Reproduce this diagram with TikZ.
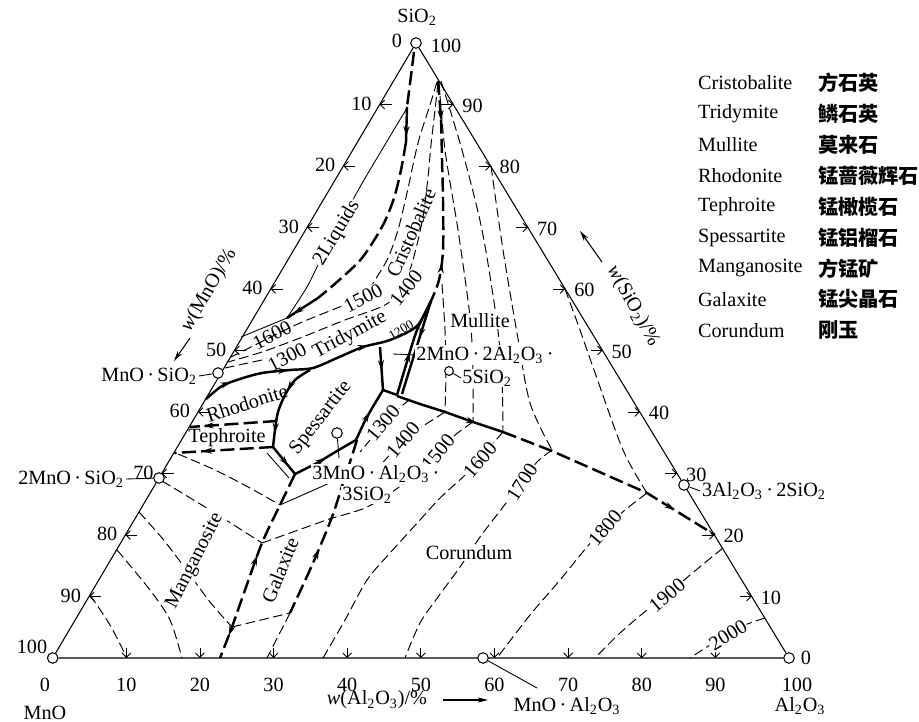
\documentclass[tikz,border=0pt]{standalone}
\usepackage{fontspec}
\setmainfont{Liberation Serif}
\newfontfamily\cjk{Noto Sans CJK SC}
\usetikzlibrary{arrows.meta,decorations.markings,calc}
\newcommand\ssub[1]{\textsubscript{#1}}
\begin{document}
\begin{tikzpicture}[x=0.02cm,y=-0.02cm,
  lab/.style={font=\fontsize{11.5}{13}\selectfont, inner sep=1pt},
  wlab/.style={lab, fill=white, inner sep=0.6pt},
  frameline/.style={line width=0.6pt},
  thinline/.style={line width=0.5pt},
  thindash/.style={line width=0.55pt, dash pattern=on 5.5pt off 2.5pt},
  bolddash/.style={line width=1.4pt, dash pattern=on 8pt off 3pt},
  boldline/.style={line width=1.4pt},
  tickarr/.style={line width=0.5pt, -{Straight Barb[length=2.5pt,width=5pt]}},
  axarr/.style={line width=0.6pt, -{Stealth[length=6pt,width=3pt]}},
  fwd/.style={postaction={solid,decorate,decoration={markings,mark=at position #1 with {\arrow{Stealth[length=6pt,width=3.4pt]}}}}},
  bwd/.style={postaction={solid,decorate,decoration={markings,mark=at position #1 with {\arrowreversed{Stealth[length=6pt,width=3.4pt]}}}}},
  cmp/.style={circle, draw, fill=white, line width=0.6pt, inner sep=0pt, minimum size=6pt},
]
\useasboundingbox (0,0) rectangle (919,722);

% ---------- frame ----------
\node[cmp] (cT) at (416,43) {};
\node[cmp] (cL) at (52.7,658) {};
\node[cmp] (cR) at (789,658) {};
\draw[frameline] (cT) -- (cL) -- (cR) -- (cT);

% ---------- ticks & numbers ----------
\foreach \k in {10,20,...,90}{
  \draw[tickarr] ({416-3.633*\k+12},{43+6.15*\k}) -- ({416-3.633*\k},{43+6.15*\k});
  \node[lab,anchor=east] (lt\k) at ({416-3.633*\k-6},{43+6.15*\k-1}) {\k};
  \draw[tickarr] ({789-3.73*\k-12},{658-6.15*\k}) -- ({789-3.73*\k},{658-6.15*\k});
  \node[lab,anchor=west] (rt\k) at ({789-3.73*\k+7},{658-6.15*\k+1}) {\k};
  \draw[tickarr] ({52.7+7.363*\k},648) -- ({52.7+7.363*\k},658);
  \node[lab] (bt\k) at ({52.7+7.363*\k},685) {\k};
}
\node[lab] (t0) at (397,41) {0};
\node[lab] (t100) at (446,46) {100};
\node[lab] (tS) at (417,17) {SiO\ssub{2}};
\node[lab] (l100) at (32,647) {100};
\node[lab] (b0) at (45,685) {0};
\node[lab] (bMnO) at (45,713) {MnO};
\node[lab] (r0) at (806,658) {0};
\node[lab] (b100) at (797,685) {100};
\node[lab] (bAl) at (800,706) {Al\ssub{2}O\ssub{3}};

% axis titles
\node[lab,rotate=60] (axM) at (209,290) {\textit{w}(MnO)/\%};
\coordinate (aM1) at (190,338); \coordinate (aM2) at (174,361);
\draw[axarr] (aM1) -- (aM2);
\node[lab,rotate=-61] (axS) at (633,306) {\textit{w}(SiO\ssub{2})/\%};
\coordinate (aS1) at (602,262); \coordinate (aS2) at (580,231);
\draw[axarr] (aS1) -- (aS2);
\node[lab] (axA) at (377,700) {\textit{w}(Al\ssub{2}O\ssub{3})/\%};
\coordinate (aA1) at (443,700); \coordinate (aA2) at (488,700);
\draw[axarr] (aA1) -- (aA2);

% ---------- top: two liquids / cristobalite ----------
\draw[bolddash] (414,52) -- (407,107);
\draw[boldline, fwd=0.85] (407,107) -- (406,142);
\draw[bolddash] plot[smooth] coordinates {(406,142) (401,170) (394,198) (383,225) (362,258) (337,282) (318,298)};
\draw[boldline, fwd=0.8] (318,298) -- (287,318);
\draw[thinline] (287,318) -- (241,337);
\draw[thinline] plot[smooth] coordinates {(407,108) (383,148) (360,187) (335,233) (318,265) (307,287) (287,318)};
\node[wlab,rotate=59] (l2L) at (337,233) {2Liquids};
\node[lab,rotate=27] (l1600) at (272,335) {1600};

% 1500 and 1400 isotherms
\draw[thindash] plot[smooth] coordinates {(437,82) (430,105) (418,143) (407,193) (398,230) (388,258) (375,280) (363,297) (337,308) (300,323) (265,340) (231,357)};
\node[wlab,rotate=27] (l1500) at (363,298) {1500};
\draw[thindash] plot[smooth] coordinates {(438,83) (435,110) (431,145) (428,177) (423,217) (413,260) (403,287) (385,305) (345,320) (300,338) (262,352) (228,362)};
\node[wlab,rotate=52] (l1400) at (406,288) {1400};
\node[lab,rotate=66] (lCr) at (411,233) {Cristobalite};
\draw[thindash] (225,368) -- (262,360) -- (300,352);
\node[wlab,rotate=27] (l1300) at (287,357) {1300};
\node[lab,rotate=28] (lTr) at (350,335) {Tridymite};

% tridymite lower boundary
\draw[boldline, fwd=0.12, fwd=0.35, fwd=0.68] plot[smooth] coordinates {(206,399) (222,386) (240,379) (262,373) (290,370) (313,368) (337,358) (363,347) (390,340) (417,326) (431,301)};
\node[lab,rotate=30,font=\fontsize{7.5}{8}\selectfont] (l1200) at (401,330) {1200};

% cristobalite / mullite boundary
\draw[bolddash, fwd=0.18, bwd=0.82] plot[smooth] coordinates {(438,81) (441,120) (442,160) (443,200) (443,250) (439,280) (431,301)};

% mullite isotherms
\draw[thindash] plot[smooth] coordinates {(442,284) (445,330) (446,370) (445,412)};
\draw[thindash] plot[smooth] coordinates {(439,82) (445,150) (458,230) (470,317) (473,370) (473,422)};
\draw[thindash] plot[smooth] coordinates {(441,81) (462,150) (482,230) (497,323) (502,380) (503,432)};
\draw[thindash] plot[smooth] coordinates {(491,166) (503,250) (517,333) (530,403) (552,450)};
\draw[thindash] plot[smooth] coordinates {(565,289) (580,330) (593,367) (623,450) (647,493)};
\node[wlab] (lMu) at (480,321) {Mullite};

% boundaries around spessartite
\draw[boldline, fwd=0.45] plot[smooth] coordinates {(397,395) (406,365) (417,330) (431,301)};
\draw[boldline, bwd=0.6] plot[smooth] coordinates {(402,394) (411,365) (421,333) (431,301)};
\draw[boldline, fwd=0.55] (380,347) -- (383,390);
\draw[boldline] (383,390) -- (397,395);
\draw[boldline, fwd=0.75] plot[smooth] coordinates {(397,396) (420,404) (445,412) (473,422) (503,432)};
\draw[bolddash, fwd=0.8] (503,432) -- (552,451) -- (647,493) -- (715,535);

\draw[boldline, fwd=0.35, fwd=0.85] plot[smooth] coordinates {(310,370) (295,380) (285,395) (278,412) (275,430) (273,447)};
\draw[bolddash, fwd=0.85] (277,421) -- (190,427);
\draw[bolddash, fwd=0.72] (273,447) -- (174,453);
\draw[boldline, fwd=0.7] (273,447) -- (295,474);
\draw[thinline] (267,453) -- (289,478);
\draw[boldline, fwd=0.5] plot[smooth] coordinates {(295,474) (317,463) (337,451) (356,440)};
\draw[boldline, fwd=0.55] plot[smooth] coordinates {(356,440) (367,417) (383,390)};

% galaxite boundaries
\draw[bolddash, bwd=0.45, fwd=0.88] plot[smooth] coordinates {(295,474) (280,505) (262,543) (245,590) (232,627) (220,658)};
\draw[bolddash, bwd=0.62] plot[smooth] coordinates {(357,440) (350,462) (343,483) (332,517) (313,563) (290,613)};
\draw[thindash] (290,613) -- (267,658);

% manganosite isotherms
\draw[thindash] plot[smooth] coordinates {(178,454) (215,470) (250,488) (280,505)};
\draw[thinline] (280,505) -- (341,478);
\draw[thindash] plot[smooth] coordinates {(162,481) (210,510) (262,543)};
\draw[thindash] (262,543) -- (332,518);
\draw[thindash] plot[smooth] coordinates {(139,512) (162,538) (185,568) (210,602) (232,627)};
\draw[thindash] (232,627) -- (290,613);
\draw[thindash] plot[smooth] coordinates {(117,550) (150,590) (170,620) (182,658)};
\draw[thindash] plot[smooth] coordinates {(90,595) (110,625) (127,658)};

% corundum isotherms
\draw[thindash] plot[smooth] coordinates {(410,399) (395,412) (383,423) (370,440) (360,452)};
\node[wlab,rotate=50] (c1300) at (383,423) {1300};
\draw[thindash] plot[smooth] coordinates {(445,412) (420,428) (403,440) (385,460) (370,474) (344,482)};
\node[wlab,rotate=50] (c1400) at (403,440) {1400};
\draw[thindash] plot[smooth] coordinates {(473,422) (455,435) (438,452) (420,470) (395,490) (365,508) (332,518)};
\node[wlab,rotate=51] (c1500) at (438,452) {1500};
\draw[thindash] plot[smooth] coordinates {(503,432) (490,447) (480,460) (463,477) (440,498) (420,520) (390,553) (367,580) (345,620) (323,658)};
\node[wlab,rotate=50] (c1600) at (480,460) {1600};
\draw[thindash] plot[smooth] coordinates {(552,450) (537,462) (522,482) (503,507) (480,537) (460,567) (438,597) (420,623) (405,658)};
\node[wlab,rotate=57] (c1700) at (522,482) {1700};
\draw[thindash] plot[smooth] coordinates {(647,493) (625,510) (605,528) (587,547) (560,580) (530,615) (497,658)};
\node[wlab,rotate=50] (c1800) at (605,528) {1800};
\draw[thindash] plot[smooth] coordinates {(723,548) (690,575) (667,595) (647,610) (620,633) (595,658)};
\node[wlab,rotate=40] (c1900) at (667,595) {1900};
\draw[thindash] plot[smooth] coordinates {(765,618) (745,625) (728,635) (707,647) (690,658)};
\node[wlab,rotate=32] (c2000) at (728,635) {2000};

% field labels
\node[lab,rotate=18] (lRh) at (247,403) {Rhodonite};
\node[lab] (lTe) at (227,438) {Tephroite};
\node[lab,rotate=52] (lSp) at (321,418) {Spessartite};
\node[wlab,rotate=63] (lMa) at (195,561) {Manganosite};
\node[lab,rotate=68] (lGa) at (280,570) {Galaxite};
\node[wlab] (lCo) at (469,553) {Corundum};

% ---------- compounds ----------
\node[cmp] (cMS) at (218,373) {};
\node[lab,anchor=east] (nMS) at (199,376) {MnO\,·\,SiO\ssub{2}};
\draw[thinline] (nMS.east) -- (cMS);
\node[cmp] (c2MS) at (159,478) {};
\node[lab,anchor=east] (n2MS) at (126,479) {2MnO\,·\,SiO\ssub{2}};
\draw[thinline] (n2MS.east) -- (c2MS);
\node[cmp] (cMA) at (483,658) {};
\coordinate (kMA) at (537,688);
\draw[thinline] (cMA) -- (kMA);
\node[lab] (nMA) at (567,706) {MnO\,·\,Al\ssub{2}O\ssub{3}};
\node[cmp] (cA3S2) at (684,485) {};
\node[lab,anchor=west] (nA3S2) at (700,491) {3Al\ssub{2}O\ssub{3}\,·\,2SiO\ssub{2}};
\draw[thinline] (cA3S2) -- (nA3S2.west);
\node[cmp] (cSp) at (337,433) {};
\coordinate (kSp) at (339,458);
\draw[thinline] (cSp) -- (kSp);
\node[wlab,anchor=west] (nSp1) at (311,474) {3MnO\,·\,Al\ssub{2}O\ssub{3}\,·};
\node[wlab,anchor=west] (nSp2) at (341,495) {3SiO\ssub{2}};
\node[cmp,minimum size=5pt] (cCo) at (449,371) {};
\node[wlab,anchor=west] (nCo1) at (415,355) {2MnO\,·\,2Al\ssub{2}O\ssub{3}\,·};
\node[wlab,anchor=west] (nCo2) at (461,378) {5SiO\ssub{2}};
\coordinate (kCo) at (393,354);
\draw[thinline] (kCo) -- (nCo1.west);
\draw[thinline] (cCo) -- (nCo2.west);

% ---------- legend ----------
\foreach \e/\c [count=\i from 0] in {Cristobalite/方石英, Tridymite/鳞石英, Mullite/莫来石, Rhodonite/锰蔷薇辉石, Tephroite/锰橄榄石, Spessartite/锰铝榴石, Manganosite/方锰矿, Galaxite/锰尖晶石, Corundum/刚玉}{
  \node[lab,anchor=west] (le\i) at (696,{83+30.9*\i}) {\e};
  \node[lab,anchor=west] (lc\i) at (816,{83+30.9*\i}) {\cjk\bfseries \c};
}
\end{tikzpicture}
\end{document}
